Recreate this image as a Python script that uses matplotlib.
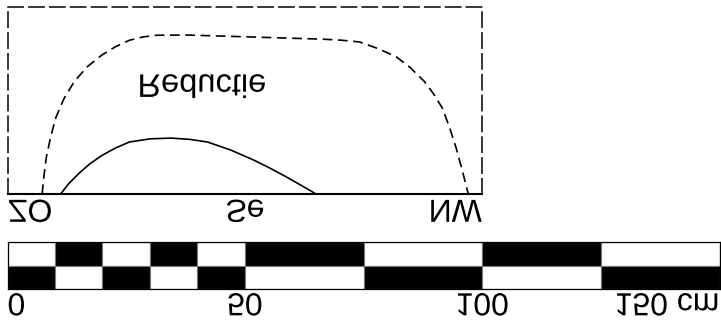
import matplotlib
matplotlib.use('Agg')
import matplotlib.pyplot as plt
import matplotlib.patheffects as pe
from matplotlib.path import Path
from matplotlib.transforms import Affine2D, blended_transform_factory

plt.rcParams['font.family'] = ['Liberation Sans', 'DejaVu Sans']
plt.rcParams['lines.scale_dashes'] = False

# ---------------- data ----------------
outer_x = [7.2, 7.6, 8.1, 9.0, 10.1, 11.8, 14.0, 16.7, 19.8, 22.7, 25.6, 28.5, 31.4, 38.0,
           47.0, 56.0, 66.4, 70.5, 74.2, 78.0, 81.9, 84.9, 87.8, 89.8, 91.6, 93.1, 94.5, 95.8, 97.1]
outer_y = [0.0, 10.0, 19.8, 30.5, 40.9, 51.0, 60.2, 68.0, 74.3, 78.8, 82.2, 84.0, 84.9, 85.0,
           84.3, 83.6, 82.8, 82.2, 81.3, 77.8, 73.4, 67.5, 60.3, 53.5, 46.1, 36.0, 25.0, 13.0, 0.0]

inner_x = [11.1, 12.8, 14.9, 17.2, 19.8, 22.6, 25.6, 30.0, 34.4, 38.4, 42.1, 47.0, 51.8, 55.3, 58.6, 61.8, 65.0]
inner_y = [0.0, 5.5, 10.9, 16.0, 20.6, 24.5, 27.8, 29.5, 29.9, 29.2, 27.8, 23.5, 18.2, 13.8, 9.3, 4.7, 0.0]

area_label = 'Reductie'
compass_pos = [0, 50, 100]
compass_labels = ['ZO', 'Se', 'NW']

scale_edges = [0, 10, 20, 30, 40, 50, 75, 100, 125, 150]
scale_ticks = [0, 50, 100, 150]
scale_labels = ['0', '50', '100', '150 cm']


class FlipText(pe.AbstractPathEffect):
    """Draw the text glyphs mirrored top-to-bottom (and optionally widened)."""
    def __init__(self, sx=1.0, anchor='center'):
        super().__init__()
        self.sx = sx
        self.anchor = anchor

    def draw_path(self, renderer, gc, tpath, affine, rgbFace=None):
        if isinstance(renderer, pe.PathEffectRenderer):
            renderer = renderer._renderer
        v = tpath.vertices
        if tpath.codes is not None:
            v = v[tpath.codes != Path.CLOSEPOLY]
        if len(v):
            x0, x1 = v[:, 0].min(), v[:, 0].max()
            y0, y1 = v[:, 1].min(), v[:, 1].max()
            xa = {'left': x0, 'center': (x0 + x1) / 2, 'right': x1}[self.anchor]
            cy = (y0 + y1) / 2
            pre = Affine2D().translate(-xa, -cy).scale(self.sx, -1).translate(xa, cy)
            affine = pre + affine
        renderer.draw_path(gc, tpath, affine, rgbFace)


W, H = 721, 326
fig = plt.figure(figsize=(W / 100, H / 100), dpi=100)

# ---------------- top panel ----------------
ax1 = fig.add_axes([8 / W, (H - 194) / H, 474 / W, 187 / H])
ax1.set_xlim(0, 100)
ax1.set_ylim(0, 100)
ax1.set_xticks([])
ax1.set_yticks([])
ax1.plot(outer_x, outer_y, color='black', lw=1.2, linestyle=(0, (7, 4)), clip_on=False)
ax1.plot(inner_x, inner_y, color='black', lw=1.2, clip_on=False)
for s in ['top', 'left', 'right']:
    ax1.spines[s].set_linestyle((0, (11, 4)))
    ax1.spines[s].set_linewidth(1.1)
ax1.spines['bottom'].set_linewidth(1.5)

ax1.text(40.9, 56, area_label, fontsize=23.5, ha='center', va='center',
         path_effects=[FlipText(1.0)])

tr1 = blended_transform_factory(ax1.transData, ax1.transAxes)
for pos, lab, ha in zip(compass_pos, compass_labels, ['left', 'center', 'right']):
    ax1.text(pos, -0.106, lab, transform=tr1, fontsize=23, ha=ha, va='center',
             path_effects=[FlipText(1.0, anchor=ha)])

# ---------------- scale bar ----------------
ax2 = fig.add_axes([7.5 / W, (H - 289) / H, 712 / W, 47 / H])
ax2.set_xlim(0, 150)
ax2.set_ylim(0, 2)
ax2.set_xticks([])
ax2.set_yticks([])
lefts = scale_edges[:-1]
widths = [b - a for a, b in zip(scale_edges[:-1], scale_edges[1:])]
top_cols = ['white' if i % 2 == 0 else 'black' for i in range(len(lefts))]
bot_cols = ['black' if i % 2 == 0 else 'white' for i in range(len(lefts))]
ax2.barh(1.5, widths, left=lefts, height=1, color=top_cols, edgecolor='#777777', lw=0.8)
ax2.barh(0.5, widths, left=lefts, height=1, color=bot_cols, edgecolor='#777777', lw=0.8)
for s in ax2.spines.values():
    s.set_linewidth(0.9)
    s.set_color('black')

tr2 = blended_transform_factory(ax2.transData, ax2.transAxes)
for pos, lab, ha in zip(scale_ticks, scale_labels, ['left', 'center', 'center', 'right']):
    ax2.text(pos, -0.39, lab, transform=tr2, fontsize=23, ha=ha, va='center',
             path_effects=[FlipText(1.0, anchor=ha)])

fig.savefig('out.png', dpi=100)
